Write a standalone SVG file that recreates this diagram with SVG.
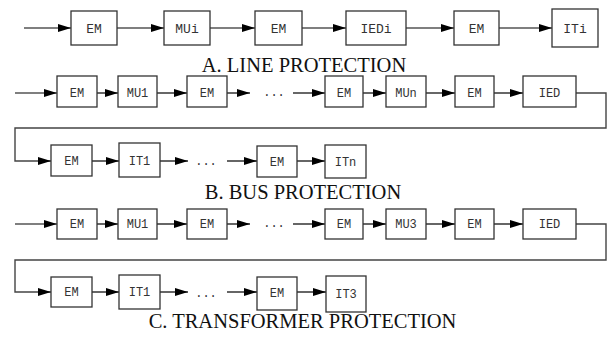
<svg xmlns="http://www.w3.org/2000/svg" width="608" height="338" viewBox="0 0 608 338">
<defs>
<marker id="ah" markerUnits="userSpaceOnUse" markerWidth="13" markerHeight="8" refX="13" refY="4" orient="auto">
<path d="M0,0 L13,4 L0,8 z" fill="#000"/>
</marker>
<style>
.b{fill:#fff;stroke:#333;stroke-width:1.3}
.t{font-family:"Liberation Mono",monospace;font-size:13px;fill:#333;text-anchor:middle}
.s{font-size:12px}
.c{fill:none;stroke:#000;stroke-width:1.2}
.a{marker-end:url(#ah)}
.l{fill:none;stroke:#444;stroke-width:1.4}
.h{font-family:"Liberation Serif",serif;font-size:20.5px;fill:#111;text-anchor:middle}
.d{font-family:"Liberation Mono",monospace;font-size:12px;fill:#333;text-anchor:middle}
</style>
</defs>
<rect width="608" height="338" fill="#fff"/>
<g id="connectors">
<line class="c a" x1="24" y1="28" x2="71" y2="28"/>
<line class="c a" x1="117" y1="28" x2="164" y2="28"/>
<line class="c a" x1="210" y1="28" x2="255" y2="28"/>
<line class="c a" x1="302" y1="28" x2="346" y2="28"/>
<line class="c a" x1="406" y1="28" x2="454" y2="28"/>
<line class="c a" x1="499" y1="28" x2="552" y2="28"/>
<line class="c a" x1="15" y1="93" x2="57" y2="93"/>
<line class="c a" x1="97" y1="93" x2="118" y2="93"/>
<line class="c a" x1="157" y1="93" x2="187" y2="93"/>
<line class="c a" x1="227" y1="93" x2="250" y2="93"/>
<line class="c a" x1="293" y1="93" x2="325" y2="93"/>
<line class="c a" x1="363" y1="93" x2="386" y2="93"/>
<line class="c a" x1="426" y1="93" x2="455" y2="93"/>
<line class="c a" x1="494" y1="93" x2="523" y2="93"/>
<polyline class="l" points="576,93 606,93 606,128 15,128 15,161 40,161"/>
<line class="c a" x1="38" y1="161" x2="51" y2="161"/>
<line class="c a" x1="92" y1="161" x2="119" y2="161"/>
<line class="c a" x1="160" y1="161" x2="188" y2="161"/>
<line class="c a" x1="227" y1="161" x2="257" y2="161"/>
<line class="c a" x1="297" y1="161" x2="325" y2="161"/>
<line class="c a" x1="15" y1="224" x2="57" y2="224"/>
<line class="c a" x1="97" y1="224" x2="118" y2="224"/>
<line class="c a" x1="157" y1="224" x2="187" y2="224"/>
<line class="c a" x1="227" y1="224" x2="250" y2="224"/>
<line class="c a" x1="293" y1="224" x2="325" y2="224"/>
<line class="c a" x1="363" y1="224" x2="386" y2="224"/>
<line class="c a" x1="426" y1="224" x2="455" y2="224"/>
<line class="c a" x1="494" y1="224" x2="523" y2="224"/>
<polyline class="l" points="576,224 606,224 606,260 15,260 15,292 40,292"/>
<line class="c a" x1="38" y1="292" x2="51" y2="292"/>
<line class="c a" x1="92" y1="292" x2="119" y2="292"/>
<line class="c a" x1="160" y1="292" x2="188" y2="292"/>
<line class="c a" x1="227" y1="292" x2="257" y2="292"/>
<line class="c a" x1="297" y1="292" x2="326" y2="292"/>
</g>
<g id="a-em1"><rect class="b" x="71" y="11" width="46" height="34"/><text class="t" x="94" y="32.5">EM</text></g>
<g id="a-mui"><rect class="b" x="164" y="11" width="46" height="34"/><text class="t" x="187" y="32.5">MUi</text></g>
<g id="a-em2"><rect class="b" x="255" y="11" width="47" height="34"/><text class="t" x="278.5" y="32.5">EM</text></g>
<g id="a-iedi"><rect class="b" x="346" y="11" width="60" height="34"/><text class="t" x="376" y="32.5">IEDi</text></g>
<g id="a-em3"><rect class="b" x="454" y="11" width="45" height="34"/><text class="t" x="476.5" y="32.5">EM</text></g>
<g id="a-iti"><rect class="b" x="552" y="9" width="46" height="38"/><text class="t" x="575" y="32.5">ITi</text></g>
<text class="h" x="304" y="72">A. LINE PROTECTION</text>
<g id="b-em1"><rect class="b" x="57" y="76" width="40" height="31"/><text class="t s" x="77" y="97">EM</text></g>
<g id="b-mu1"><rect class="b" x="118" y="76" width="39" height="31"/><text class="t s" x="137.5" y="97">MU1</text></g>
<g id="b-em2"><rect class="b" x="187" y="76" width="40" height="31"/><text class="t s" x="207" y="97">EM</text></g>
<text class="d" x="274" y="96">...</text>
<g id="b-em3"><rect class="b" x="325" y="76" width="38" height="31"/><text class="t s" x="344" y="97">EM</text></g>
<g id="b-mun"><rect class="b" x="386" y="76" width="40" height="31"/><text class="t s" x="406" y="97">MUn</text></g>
<g id="b-em4"><rect class="b" x="455" y="76" width="39" height="31"/><text class="t s" x="474.5" y="97">EM</text></g>
<g id="b-ied"><rect class="b" x="523" y="76" width="53" height="31"/><text class="t s" x="549.5" y="97">IED</text></g>
<g id="b-em5"><rect class="b" x="51" y="145" width="41" height="31"/><text class="t s" x="71.5" y="165">EM</text></g>
<g id="b-it1"><rect class="b" x="119" y="143" width="41" height="34"/><text class="t s" x="139.5" y="165">IT1</text></g>
<text class="d" x="206" y="165">...</text>
<g id="b-em6"><rect class="b" x="257" y="146" width="40" height="31"/><text class="t s" x="277" y="166">EM</text></g>
<g id="b-itn"><rect class="b" x="325" y="145" width="41" height="33"/><text class="t s" x="345.5" y="166">ITn</text></g>
<text class="h" x="303" y="199">B. BUS PROTECTION</text>
<g id="c-em1"><rect class="b" x="57" y="209" width="40" height="30"/><text class="t s" x="77" y="228">EM</text></g>
<g id="c-mu1"><rect class="b" x="118" y="209" width="39" height="30"/><text class="t s" x="137.5" y="228">MU1</text></g>
<g id="c-em2"><rect class="b" x="187" y="209" width="40" height="30"/><text class="t s" x="207" y="228">EM</text></g>
<text class="d" x="274" y="227">...</text>
<g id="c-em3"><rect class="b" x="325" y="209" width="38" height="30"/><text class="t s" x="344" y="228">EM</text></g>
<g id="c-mu3"><rect class="b" x="386" y="209" width="40" height="30"/><text class="t s" x="406" y="228">MU3</text></g>
<g id="c-em4"><rect class="b" x="455" y="209" width="39" height="30"/><text class="t s" x="474.5" y="228">EM</text></g>
<g id="c-ied"><rect class="b" x="523" y="209" width="53" height="30"/><text class="t s" x="549.5" y="228">IED</text></g>
<g id="c-em5"><rect class="b" x="51" y="277" width="41" height="30"/><text class="t s" x="71.5" y="296">EM</text></g>
<g id="c-it1"><rect class="b" x="119" y="275" width="41" height="34"/><text class="t s" x="139.5" y="296">IT1</text></g>
<text class="d" x="206" y="297">...</text>
<g id="c-em6"><rect class="b" x="257" y="277" width="40" height="33"/><text class="t s" x="277" y="297">EM</text></g>
<g id="c-it3"><rect class="b" x="326" y="276" width="40" height="36"/><text class="t s" x="346" y="298">IT3</text></g>
<text class="h" x="302.5" y="328">C. TRANSFORMER PROTECTION</text>
</svg>
